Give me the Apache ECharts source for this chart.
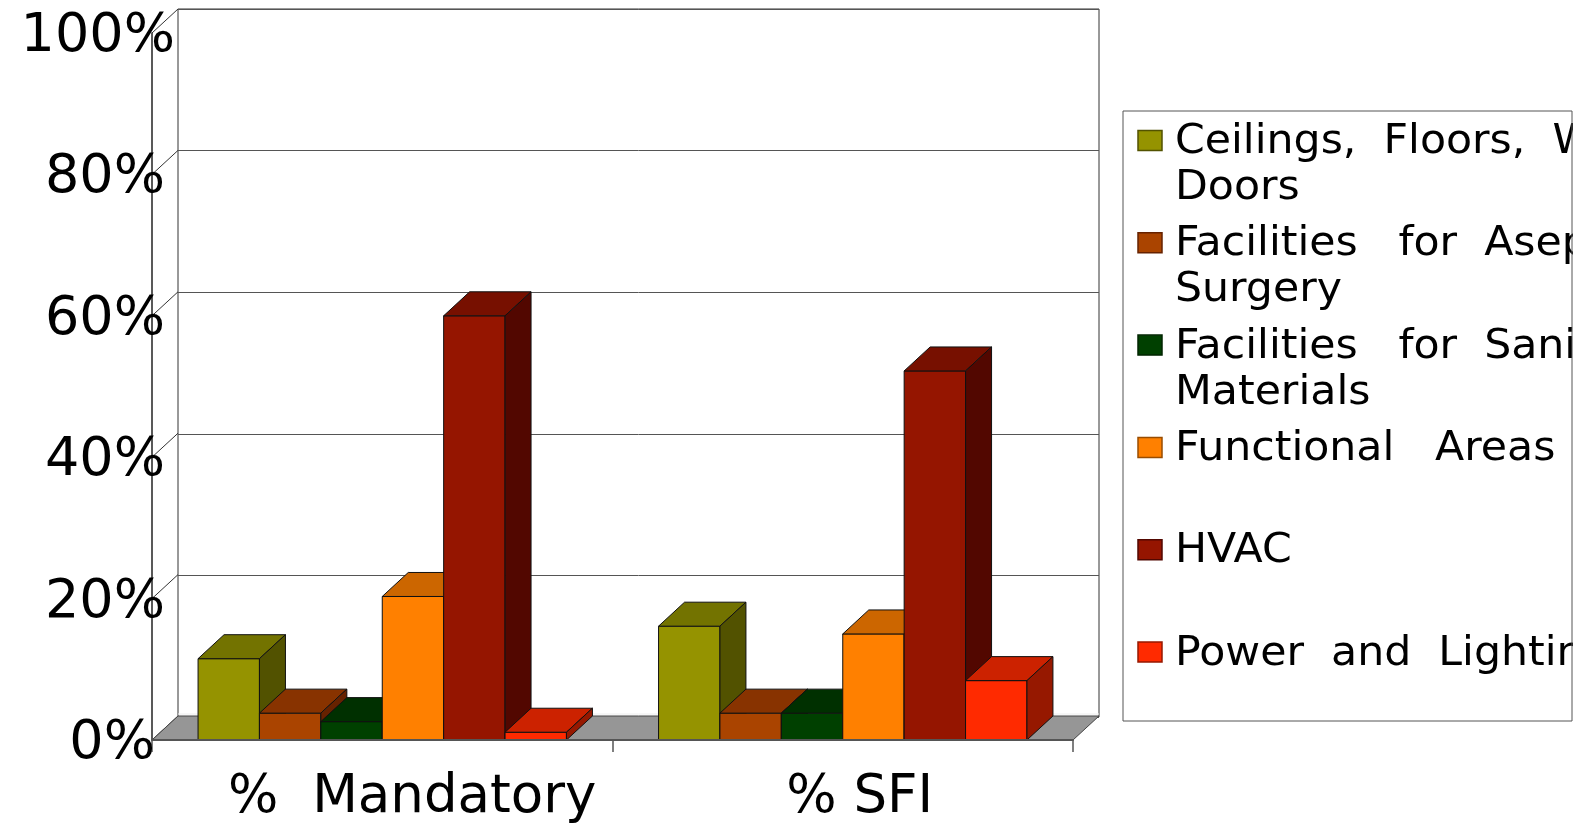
<!DOCTYPE html>
<html>
<head>
<meta charset="utf-8">
<script src="https://cdn.jsdelivr.net/npm/echarts@6/dist/echarts.min.js"></script>
<style>
  html, body { margin: 0; padding: 0; background: #fff; }
  #chart { width: 1585px; height: 825px; }
</style>
</head>
<body>
<div id="chart"></div>
<script>
// Categories and per-series values (percent of findings)
const categories = ['%  Mandatory', '% SFI'];
const seriesNames = [
  'Ceilings, Floors, Walls and Doors',
  'Facilities for Aseptic Surgery',
  'Facilities for Sanitizing Materials',
  'Functional Areas',
  'HVAC',
  'Power and Lighting'
];
const ceilingsFloorsWalls = [11.5, 16.1];
const asepticSurgery = [3.8, 3.8];
const sanitizingMaterials = [2.6, 3.8];
const functionalAreas = [20.3, 15.0];
const hvac = [60.0, 52.2];
const powerLighting = [1.1, 8.4];
const yTickLabels = ['0%', '20%', '40%', '60%', '80%', '100%'];

// Legend text as it wraps (and spreads) inside the legend box
const legendLines = [
  ['Ceilings,  Floors,  Walls  and', 'Doors'],
  ['Facilities   for  Aseptic', 'Surgery'],
  ['Facilities   for  Sanitizing', 'Materials'],
  ['Functional   Areas'],
  ['HVAC'],
  ['Power  and  Lighting']
];

const seriesValues = [ceilingsFloorsWalls, asepticSurgery, sanitizingMaterials,
                      functionalAreas, hvac, powerLighting];

// Face colours: front, top, side
const palette = [
  { front: '#959300', top: '#737300', side: '#525200' },
  { front: '#AA4400', top: '#883300', side: '#662200' },
  { front: '#004000', top: '#003000', side: '#002400' },
  { front: '#FF8000', top: '#CC6600', side: '#994C00' },
  { front: '#951500', top: '#771000', side: '#520700' },
  { front: '#FF2A00', top: '#CC2200', side: '#961800' }
];

const FONT = '"DejaVu Sans", "Noto Sans", sans-serif';
const DX = 26, DY = -24;          // depth offset of the 3D box
const GROUP_FRACTION = 0.8;       // share of a category band filled by its bars
const N = seriesValues.length;

// Front plane and back wall rectangles
const front = { left: 152, top: 33, width: 921, height: 708 };
const back = { left: front.left + DX, top: front.top + DY, width: front.width, height: front.height };

function boxRenderer(k) {
  const c = palette[k];
  return function (params, api) {
    const cat = api.value(0);
    const val = api.value(1);
    const band = api.size([1, 0])[0];
    const groupW = band * GROUP_FRACTION;
    const w = groupW / N;
    const base = api.coord([cat, 0]);
    const top = api.coord([cat, val]);
    const x0 = base[0] - groupW / 2 + k * w;
    const x1 = x0 + w;
    const yB = base[1], yT = top[1];
    const edge = { stroke: '#111', lineWidth: 1 };
    return {
      type: 'group',
      children: [
        { type: 'polygon', shape: { points: [[x0, yB], [x1, yB], [x1, yT], [x0, yT]] },
          style: Object.assign({ fill: c.front }, edge) },
        { type: 'polygon', shape: { points: [[x0, yT], [x1, yT], [x1 + DX, yT + DY], [x0 + DX, yT + DY]] },
          style: Object.assign({ fill: c.top }, edge) },
        { type: 'polygon', shape: { points: [[x1, yT], [x1 + DX, yT + DY], [x1 + DX, yB + DY], [x1, yB]] },
          style: Object.assign({ fill: c.side }, edge) }
      ]
    };
  };
}

// Floor slab and side-wall lines of the 3D frame
function frameRenderer(params, api) {
  const cs = params.coordSys;
  const children = [];
  for (let v = 0; v <= 100; v += 20) {
    const y = api.coord([0, v])[1];
    children.push({ type: 'line', shape: { x1: cs.x, y1: y, x2: cs.x + DX, y2: y + DY },
      style: { stroke: '#333', lineWidth: 1 } });
  }
  const y0 = api.coord([0, 0])[1];
  const xl = cs.x, xr = cs.x + cs.width;
  children.push({ type: 'polygon',
    shape: { points: [[xl, y0], [xr, y0], [xr + DX, y0 + DY], [xl + DX, y0 + DY]] },
    style: { fill: '#969696', stroke: '#444', lineWidth: 1 } });
  children.push({ type: 'line', shape: { x1: xl + DX, y1: y0 + DY - 2, x2: xr + DX, y2: y0 + DY - 2 },
    style: { stroke: '#eee', lineWidth: 1 } });
  return { type: 'group', children: children };
}

const Y_FONT = 54, X_FONT = 53;
const yShift = [20, 10, 10, 10, 10, 0];
const yRich = {};
[0, 10, 20].forEach(function (s) {
  yRich['r' + s] = { fontSize: Y_FONT, fontFamily: FONT, color: '#000', padding: [8, s, 0, 0] };
});
const xShift = [60, 34];
const xRich = {};
xShift.forEach(function (s, i) {
  xRich['c' + i] = { fontSize: X_FONT, fontFamily: FONT, color: '#000', padding: [0, 0, 0, s] };
});

const series = [{
  type: 'custom', name: '_frame', xAxisIndex: 0, yAxisIndex: 0, z: 1, silent: true,
  renderItem: frameRenderer, data: [[0, 0]], clip: false
}];
seriesValues.forEach(function (vals, k) {
  series.push({
    type: 'custom', name: seriesNames[k], xAxisIndex: 0, yAxisIndex: 0, z: 2,
    renderItem: boxRenderer(k), clip: false,
    itemStyle: { color: palette[k].front },
    encode: { x: 0, y: 1 },
    data: vals.map(function (v, i) { return [i, v]; })
  });
});

// Legend drawn as graphic text so its box can crop long entries
const LX = 1123, LY = 111, LW = 449, LH = 610;
const ITEM_STEP = 102.3, LINE_STEP = 46;
const graphic = [
  { type: 'rect', shape: { x: LX, y: LY, width: LW, height: LH }, style: { fill: '#fff' }, z: 10 }
];
legendLines.forEach(function (lines, k) {
  const cy = 140.5 + k * ITEM_STEP;
  graphic.push({ type: 'rect', shape: { x: 1138, y: cy - 10, width: 24, height: 20 },
    style: { fill: palette[k].front, stroke: palette[k].side, lineWidth: 1.5 }, z: 11 });
  lines.forEach(function (line, j) {
    graphic.push({ type: 'text', x: 1175, y: cy + 2 + j * LINE_STEP, scaleX: 1.04, z: 11,
      style: { text: line, fill: '#000', fontSize: 41, fontFamily: FONT,
               align: 'left', verticalAlign: 'middle' } });
  });
});
graphic.push({ type: 'rect', shape: { x: LX + LW + 1, y: LY - 2, width: 40, height: LH + 4 },
  style: { fill: '#fff' }, z: 20 });
graphic.push({ type: 'rect', shape: { x: LX, y: LY, width: LW, height: LH },
  style: { fill: 'none', stroke: '#555', lineWidth: 1 }, z: 21 });

const option = {
  backgroundColor: '#fff',
  animation: false,
  grid: [
    Object.assign({ show: false }, front),
    Object.assign({ show: true, backgroundColor: '#fff', borderColor: '#333', borderWidth: 1 }, back)
  ],
  xAxis: [
    {
      type: 'category', gridIndex: 0, data: categories, z: 3,
      axisLine: { show: true, lineStyle: { color: '#555', width: 2 } },
      axisTick: { show: true, interval: 0, length: 12, lineStyle: { color: '#555', width: 1.5 } },
      axisLabel: {
        interval: 0, hideOverlap: false,
        margin: 32, fontSize: X_FONT, fontFamily: FONT, color: '#000', rich: xRich,
        formatter: function (v, i) { return '{c' + i + '|' + v + '}'; }
      }
    },
    { type: 'category', gridIndex: 1, data: categories, show: false }
  ],
  yAxis: [
    {
      type: 'value', gridIndex: 0, min: 0, max: 100, interval: 20, z: 3,
      axisLine: { show: true, lineStyle: { color: '#222', width: 1.5 } },
      axisTick: { show: false },
      splitLine: { show: false },
      axisLabel: {
        margin: -23, align: 'right', fontSize: Y_FONT, fontFamily: FONT, color: '#000', rich: yRich,
        formatter: function (v) {
          const i = Math.round(v / 20);
          return '{r' + yShift[i] + '|' + yTickLabels[i] + '}';
        }
      }
    },
    {
      type: 'value', gridIndex: 1, min: 0, max: 100, interval: 20,
      axisLine: { show: false }, axisTick: { show: false }, axisLabel: { show: false },
      splitLine: { show: true, lineStyle: { color: '#555', width: 1 } }
    }
  ],
  graphic: graphic,
  series: series
};

const chart = echarts.init(document.getElementById('chart'), null, { renderer: 'canvas' });
chart.setOption(option);
</script>
</body>
</html>
